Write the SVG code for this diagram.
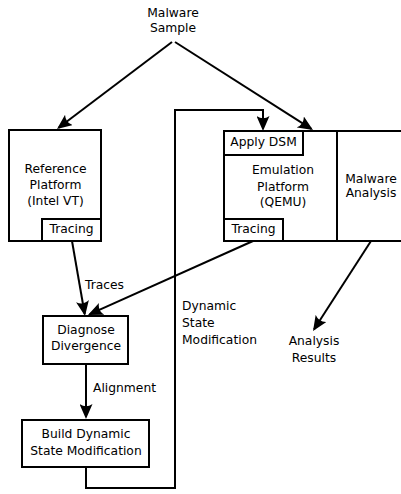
<svg xmlns="http://www.w3.org/2000/svg" width="401" height="494" viewBox="0 0 401 494">
<style>
text{font-family:"DejaVu Sans","Liberation Sans",sans-serif;font-size:12.3px;fill:#000;text-anchor:middle}
.box{fill:#fff;stroke:#000;stroke-width:2}
.ln{fill:none;stroke:#000;stroke-width:2}
.lt{text-anchor:start}
</style>
<defs>
<marker id="ah" viewBox="0 0 15 13" refX="13" refY="6.5" markerWidth="15" markerHeight="13" markerUnits="userSpaceOnUse" orient="auto">
<path d="M15,6.5 L0,0 Q4.5,6.5 0,13 Z" fill="#000"/>
</marker>
</defs>
<g id="malware-sample">
<text x="173" y="16.5">Malware</text>
<text x="173" y="32">Sample</text>
</g>
<g id="reference-platform">
<rect class="box" x="9" y="130" width="92" height="111"/>
<text x="55.5" y="172.5">Reference</text>
<text x="55.5" y="189">Platform</text>
<text x="55.5" y="205">(Intel VT)</text>
</g>
<g id="reference-tracing">
<rect class="box" x="42" y="219" width="59" height="22"/>
<text x="71.5" y="232.5">Tracing</text>
</g>
<g id="malware-analysis">
<rect class="box" x="337" y="131" width="70" height="110"/>
<text x="371" y="182.5">Malware</text>
<text x="371" y="197">Analysis</text>
</g>
<g id="emulation-platform">
<rect class="box" x="224" y="131" width="113" height="110"/>
<text x="283" y="174">Emulation</text>
<text x="283" y="190.5">Platform</text>
<text x="283" y="206">(QEMU)</text>
</g>
<g id="apply-dsm">
<rect class="box" x="224" y="131" width="79" height="24"/>
<text x="263.5" y="145.5">Apply DSM</text>
</g>
<g id="emulation-tracing">
<rect class="box" x="224" y="219" width="59" height="22"/>
<text x="253.5" y="232.5">Tracing</text>
</g>
<g id="diagnose-divergence">
<rect class="box" x="43" y="316" width="85" height="48"/>
<text x="86" y="334">Diagnose</text>
<text x="86" y="350">Divergence</text>
</g>
<g id="build-dsm">
<rect class="box" x="22" y="420" width="127" height="47"/>
<text x="86" y="438">Build Dynamic</text>
<text x="86" y="455">State Modification</text>
</g>
<g id="analysis-results">
<text x="314" y="345">Analysis</text>
<text x="314" y="361.5">Results</text>
</g>
<g id="connectors">
<line class="ln" x1="172" y1="42" x2="58.6" y2="127.8" marker-end="url(#ah)"/>
<line class="ln" x1="175" y1="42" x2="311.3" y2="128.9" marker-end="url(#ah)"/>
<path class="ln" d="M86,467 V488 H175 V110 H263 V129" marker-end="url(#ah)"/>
<line class="ln" x1="72" y1="241" x2="84.7" y2="314" marker-end="url(#ah)"/>
<line class="ln" x1="253" y1="241" x2="89.8" y2="314.2" marker-end="url(#ah)"/>
<line class="ln" x1="86" y1="364" x2="86" y2="417" marker-end="url(#ah)"/>
<line class="ln" x1="371" y1="241" x2="314.1" y2="329.3" marker-end="url(#ah)"/>
<text class="lt" x="85" y="288.5">Traces</text>
<text class="lt" x="93" y="392">Alignment</text>
<text class="lt" x="182" y="310">Dynamic</text>
<text class="lt" x="182" y="327">State</text>
<text class="lt" x="182" y="344">Modification</text>
</g>
</svg>
